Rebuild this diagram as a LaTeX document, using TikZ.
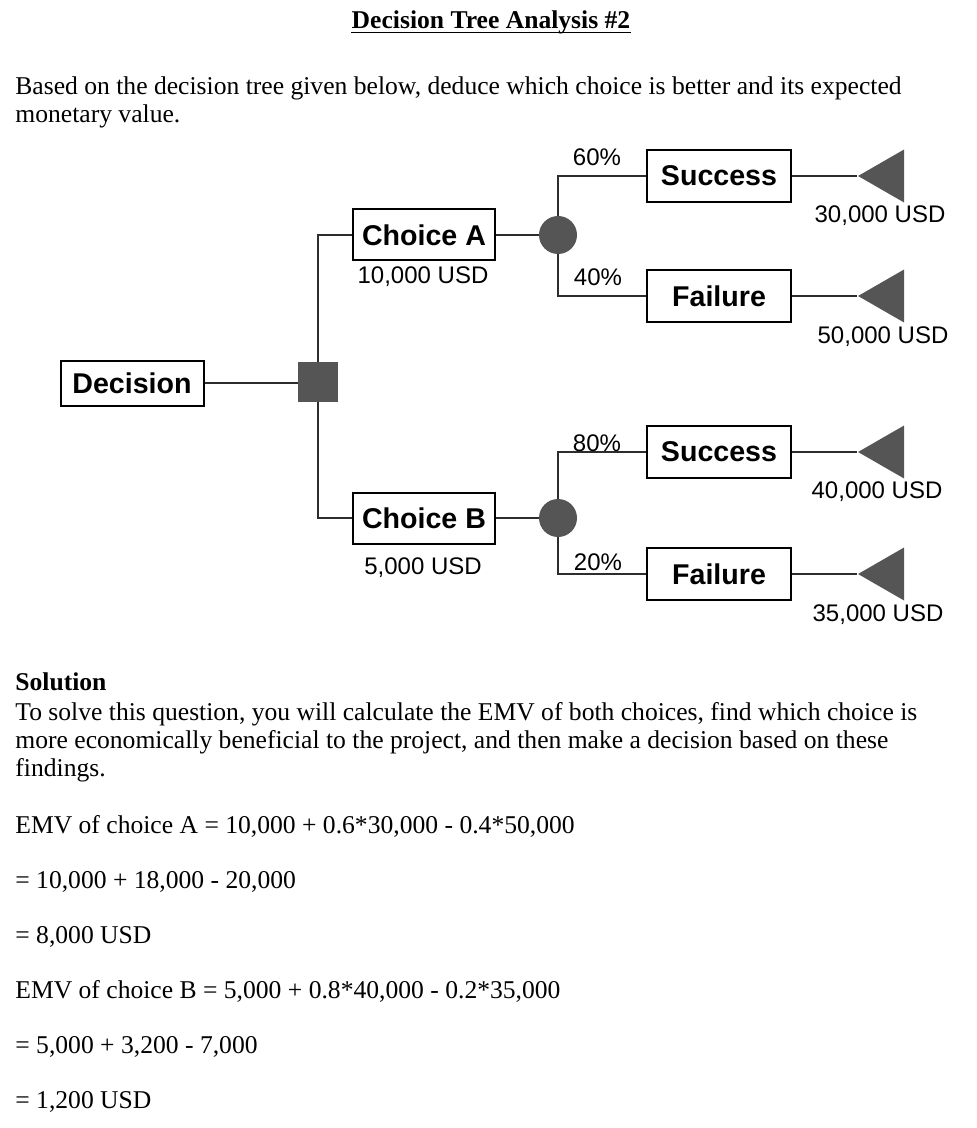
\documentclass[tikz,border=0pt]{standalone}
\usepackage{fontspec}
\setmainfont{Liberation Serif}
\newfontfamily\arialfont{Liberation Sans}
\usetikzlibrary{shapes.geometric}
\definecolor{nodeGray}{RGB}{85,85,85}
\definecolor{lineGray}{RGB}{45,45,45}

\begin{document}
\begin{tikzpicture}[
    x=0.5pt,y=-0.5pt,
    line join=miter,
    every node/.style={font=\arialfont},
    conn/.style={draw=lineGray,line width=1pt},
    box/.style={
        draw=black,
        line width=1pt,
        fill=white,
        inner sep=0pt,
        minimum width=72pt,
        minimum height=26pt,
        font=\arialfont\bfseries\fontsize{14.3}{16}\selectfont
    },
    dsquare/.style={
        rectangle,
        fill=nodeGray,
        minimum width=20pt,
        minimum height=20pt,
        inner sep=0pt
    },
    chance/.style={circle,fill=nodeGray,minimum size=19pt,inner sep=0pt},
    payoff/.style={
        isosceles triangle,
        isosceles triangle stretches,
        shape border rotate=180,
        fill=nodeGray,
        minimum width=26.5pt,
        minimum height=23pt,
        inner sep=0pt,
        anchor=apex
    },
    val/.style={font=\arialfont\fontsize{12}{14}\selectfont},
    pct/.style={font=\arialfont\fontsize{12}{14}\selectfont},
    txt/.style={anchor=base west,inner sep=0pt,font=\rmfamily\fontsize{12.8}{15}\selectfont}
]
\useasboundingbox (0,0) rectangle (976,1128);

% ============================================================
% heading and question
% ============================================================

\node[txt,anchor=base] (title) at (491,29)
    {\textbf{Decision Tree Analysis \#2}};
\draw[line width=0.6pt] ([yshift=-1.6pt]title.base west) -- ([yshift=-1.6pt]title.base east);
\node[txt] (q1) at (15,95)
    {Based on the decision tree given below, deduce which choice is better and its expected};
\node[txt] (q2) at (15,123) {monetary value.};

% ============================================================
% decision and choices
% ============================================================

\node[box,minimum width=71.5pt,minimum height=22.5pt] (dec) at (132,383) {Decision};
\node[dsquare] (dsq) at (318,382) {};
\draw[conn] (dec.east) -- (dsq.west |- dec.east);

\node[box,minimum width=71pt,minimum height=25.5pt] (chA) at (424,235) {Choice A};
\node[box,minimum width=71pt,minimum height=25.5pt] (chB) at (424,518) {Choice B};
\draw[conn] (dsq.north) |- (chA.west);
\draw[conn] (dsq.south) |- (chB.west);

\node[val] (costA) at (423,277) {10,000 USD};
\node[val] (costB) at (423,568) {5,000 USD};

% ============================================================
% chance nodes
% ============================================================

\node[chance] (cA) at (558,235) {};
\node[chance] (cB) at (558,518) {};
\draw[conn] (chA.east) -- (cA.west);
\draw[conn] (chB.east) -- (cB.west);

\node[box] (sA) at (719,176) {Success};
\node[box] (fA) at (719,296) {Failure};
\node[box] (sB) at (719,452) {Success};
\node[box] (fB) at (719,574) {Failure};

\draw[conn] (cA.north) |- (sA.west);
\draw[conn] (cA.south) |- (fA.west);
\draw[conn] (cB.north) |- (sB.west);
\draw[conn] (cB.south) |- (fB.west);

\node[pct] (pSA) at (597,157) {60\%};
\node[pct] (pFA) at (598,277) {40\%};
\node[pct] (pSB) at (597,443) {80\%};
\node[pct] (pFB) at (598,562) {20\%};

% ============================================================
% payoffs
% ============================================================

\node[payoff] (tSA) at (857,176) {};
\node[payoff] (tFA) at (857,296) {};
\node[payoff] (tSB) at (857,452) {};
\node[payoff] (tFB) at (857,574) {};

\draw[conn] (sA.east) -- (tSA.apex);
\draw[conn] (fA.east) -- (tFA.apex);
\draw[conn] (sB.east) -- (tSB.apex);
\draw[conn] (fB.east) -- (tFB.apex);

\node[val] (vSA) at (880,216) {30,000 USD};
\node[val] (vFA) at (883,337) {50,000 USD};
\node[val] (vSB) at (877,492) {40,000 USD};
\node[val] (vFB) at (878,615) {35,000 USD};

% ============================================================
% solution
% ============================================================

\node[txt] (sol) at (15,690) {\textbf{Solution}};
\node[txt] (s1) at (15,720)
    {To solve this question, you will calculate the EMV of both choices, find which choice is};
\node[txt] (s2) at (15,748)
    {more economically beneficial to the project, and then make a decision based on these};
\node[txt] (s3) at (15,776) {findings.};

\node[txt] (e1) at (15,833) {EMV of choice A = 10,000 + 0.6*30,000 - 0.4*50,000};
\node[txt] (e2) at (15,888) {= 10,000 + 18,000 - 20,000};
\node[txt] (e3) at (15,943) {= 8,000 USD};
\node[txt] (e4) at (15,998) {EMV of choice B = 5,000 + 0.8*40,000 - 0.2*35,000};
\node[txt] (e5) at (15,1053) {= 5,000 + 3,200 - 7,000};
\node[txt] (e6) at (15,1108) {= 1,200 USD};

\end{tikzpicture}
\end{document}
